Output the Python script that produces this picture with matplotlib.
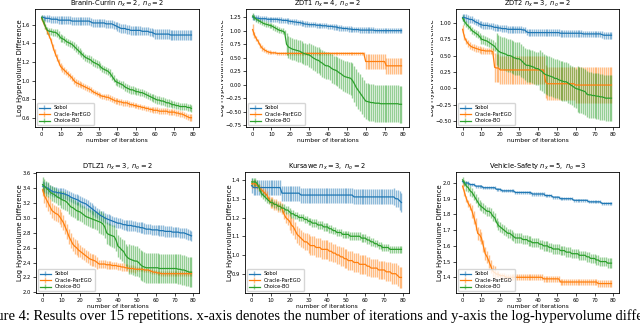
import numpy as np
import matplotlib
matplotlib.use("Agg")
import matplotlib.pyplot as plt
from matplotlib.transforms import Bbox, TransformedBbox

iters = np.arange(80)
methods = ["Sobol", "Oracle-ParEGO", "Choice-BO"]
colors = ["#1f77b4", "#ff7f0e", "#2ca02c"]

# ---------------- Branin-Currin ----------------
bc_sobol = [1.68,1.68,1.67,1.67,1.67,1.66,1.66,1.66,1.66,1.65, 1.65,1.65,1.65,1.65,1.65,1.65,1.64,1.64,1.64,1.64,
            1.64,1.64,1.64,1.64,1.64,1.64,1.63,1.62,1.62,1.62, 1.62,1.62,1.62,1.62,1.61,1.61,1.61,1.61,1.60,1.59,
            1.58,1.57,1.56,1.56,1.56,1.55,1.55,1.54,1.54,1.54, 1.54,1.54,1.54,1.53,1.53,1.53,1.53,1.52,1.52,1.51,
            1.50,1.50,1.50,1.50,1.50,1.50,1.50,1.50,1.49,1.49, 1.49,1.49,1.49,1.49,1.49,1.49,1.49,1.49,1.49,1.49]
bc_sobol_err = [0.03,0.03,0.03,0.04,0.04,0.04,0.04,0.04,0.04,0.04, 0.04,0.04,0.04,0.04,0.04,0.04,0.04,0.04,0.04,0.04,
                0.04,0.04,0.04,0.04,0.04,0.04,0.04,0.04,0.04,0.04, 0.04,0.04,0.04,0.04,0.04,0.04,0.04,0.04,0.04,0.04,
                0.045,0.045,0.045,0.045,0.045,0.045,0.045,0.045,0.045,0.045, 0.045,0.045,0.045,0.045,0.045,0.045,0.045,0.045,0.045,0.045,
                0.05,0.05,0.05,0.05,0.05,0.05,0.05,0.05,0.05,0.05, 0.05,0.05,0.05,0.05,0.05,0.05,0.05,0.05,0.05,0.05]
bc_parego = [1.67,1.62,1.58,1.53,1.48,1.43,1.36,1.30,1.25,1.20, 1.15,1.13,1.11,1.09,1.07,1.05,1.03,1.00,0.98,0.97,
             0.96,0.95,0.94,0.93,0.92,0.91,0.90,0.88,0.87,0.86, 0.85,0.84,0.83,0.83,0.82,0.82,0.81,0.80,0.79,0.78,
             0.78,0.77,0.77,0.76,0.76,0.76,0.75,0.74,0.74,0.73, 0.73,0.72,0.72,0.71,0.71,0.70,0.70,0.69,0.69,0.68,
             0.68,0.68,0.67,0.67,0.67,0.67,0.67,0.66,0.66,0.66, 0.66,0.65,0.65,0.64,0.64,0.63,0.62,0.61,0.60,0.60]
bc_parego_err = [0.02,0.02,0.02,0.025,0.025,0.03,0.03,0.035,0.035,0.035, 0.035,0.035,0.035,0.035,0.035,0.035,0.035,0.035,0.035,0.035,
                 0.03,0.03,0.03,0.03,0.03,0.03,0.03,0.03,0.03,0.03, 0.03,0.03,0.03,0.03,0.03,0.03,0.03,0.03,0.03,0.03,
                 0.03,0.03,0.03,0.03,0.03,0.03,0.03,0.03,0.03,0.03, 0.03,0.03,0.03,0.03,0.03,0.03,0.03,0.03,0.03,0.03,
                 0.03,0.03,0.03,0.03,0.03,0.03,0.03,0.03,0.03,0.03, 0.035,0.035,0.035,0.035,0.035,0.035,0.035,0.035,0.035,0.035]
bc_choice = [1.68,1.63,1.58,1.54,1.53,1.53,1.52,1.52,1.51,1.49, 1.46,1.45,1.44,1.42,1.41,1.40,1.39,1.37,1.35,1.33,
             1.31,1.29,1.27,1.25,1.24,1.23,1.22,1.20,1.19,1.18, 1.17,1.15,1.13,1.12,1.11,1.10,1.08,1.05,1.02,0.99,
             0.98,0.97,0.96,0.95,0.93,0.92,0.91,0.90,0.90,0.89, 0.88,0.88,0.87,0.87,0.86,0.85,0.84,0.83,0.82,0.81,
             0.80,0.79,0.79,0.78,0.78,0.77,0.76,0.76,0.75,0.74, 0.74,0.73,0.73,0.72,0.72,0.72,0.72,0.71,0.71,0.70]
bc_choice_err = [0.03,0.03,0.03,0.035,0.035,0.04,0.04,0.04,0.04,0.04, 0.04,0.04,0.04,0.04,0.04,0.04,0.04,0.04,0.04,0.04,
                 0.04,0.04,0.04,0.04,0.04,0.04,0.04,0.04,0.04,0.04, 0.04,0.04,0.04,0.04,0.04,0.04,0.04,0.04,0.04,0.04,
                 0.04,0.04,0.04,0.04,0.04,0.04,0.04,0.04,0.04,0.04, 0.04,0.04,0.04,0.04,0.04,0.04,0.04,0.04,0.04,0.04,
                 0.04,0.04,0.04,0.04,0.04,0.04,0.04,0.04,0.04,0.04, 0.04,0.04,0.04,0.04,0.04,0.04,0.04,0.04,0.04,0.04]

# ---------------- ZDT1 ----------------
z1_sobol = [1.25,1.24,1.23,1.23,1.22,1.22,1.22,1.22,1.21,1.21, 1.21,1.21,1.21,1.21,1.20,1.20,1.19,1.19,1.19,1.18,
            1.17,1.17,1.16,1.16,1.15,1.15,1.14,1.13,1.12,1.12, 1.11,1.11,1.11,1.11,1.10,1.10,1.10,1.09,1.09,1.09,
            1.08,1.08,1.08,1.07,1.07,1.06,1.05,1.05,1.04,1.04, 1.04,1.03,1.03,1.02,1.02,1.02,1.02,1.01,1.01,1.01,
            1.01,1.01,1.01,1.01,1.01,1.00,1.00,1.00,1.00,1.00, 1.00,1.00,1.00,1.00,1.00,1.00,1.00,1.00,1.00,1.00]
z1_sobol_err = [0.05,0.05,0.05,0.05,0.05,0.05,0.05,0.05,0.05,0.05, 0.05,0.05,0.05,0.05,0.05,0.05,0.05,0.05,0.05,0.05,
                0.05,0.05,0.05,0.05,0.05,0.05,0.05,0.05,0.05,0.05, 0.05,0.05,0.05,0.05,0.05,0.05,0.05,0.05,0.05,0.05,
                0.05,0.05,0.05,0.05,0.05,0.05,0.05,0.05,0.05,0.05, 0.05,0.05,0.05,0.05,0.05,0.05,0.05,0.05,0.05,0.05,
                0.05,0.05,0.05,0.05,0.05,0.05,0.05,0.05,0.05,0.05, 0.05,0.05,0.05,0.05,0.05,0.05,0.05,0.05,0.05,0.05]
z1_parego = [1.02,0.92,0.85,0.80,0.73,0.68,0.65,0.63,0.61,0.60, 0.59,0.59,0.59,0.58,0.58,0.58,0.58,0.58,0.58,0.58,
             0.58,0.58,0.58,0.58,0.58,0.58,0.58,0.58,0.58,0.58, 0.58,0.58,0.58,0.58,0.58,0.58,0.58,0.58,0.58,0.58,
             0.58,0.58,0.58,0.58,0.58,0.58,0.58,0.58,0.58,0.58, 0.58,0.58,0.58,0.58,0.58,0.58,0.58,0.58,0.58,0.58,
             0.43,0.43,0.43,0.43,0.43,0.43,0.43,0.43,0.43,0.43, 0.43,0.35,0.35,0.35,0.35,0.35,0.35,0.35,0.35,0.35]
z1_parego_err = [0.10,0.06,0.05,0.05,0.05,0.05,0.04,0.04,0.04,0.04, 0.03,0.03,0.03,0.03,0.03,0.03,0.03,0.03,0.03,0.03,
                 0.03,0.03,0.03,0.03,0.03,0.03,0.03,0.03,0.03,0.03, 0.03,0.03,0.03,0.03,0.03,0.03,0.03,0.03,0.03,0.03,
                 0.03,0.03,0.03,0.03,0.03,0.03,0.03,0.03,0.03,0.03, 0.03,0.03,0.03,0.03,0.03,0.03,0.03,0.03,0.03,0.03,
                 0.13,0.13,0.13,0.13,0.13,0.13,0.13,0.13,0.13,0.13, 0.13,0.15,0.15,0.15,0.15,0.15,0.15,0.15,0.15,0.15]
z1_choice = [1.27,1.24,1.21,1.19,1.17,1.15,1.13,1.12,1.11,1.10, 1.09,1.07,1.05,1.03,1.01,1.00,0.99,0.97,0.75,0.70,
             0.68,0.66,0.65,0.64,0.63,0.62,0.60,0.58,0.57,0.56, 0.55,0.53,0.50,0.48,0.46,0.45,0.42,0.40,0.37,0.35,
             0.35,0.33,0.30,0.28,0.27,0.25,0.22,0.20,0.17,0.15, 0.14,0.13,0.12,0.08,0.02,-0.05,-0.10,-0.15,-0.20,-0.25,
             -0.30,-0.31,-0.32,-0.33,-0.33,-0.34,-0.34,-0.34,-0.35,-0.35, -0.35,-0.35,-0.35,-0.35,-0.35,-0.35,-0.35,-0.35,-0.36,-0.36]
z1_choice_err = [0.05,0.05,0.05,0.05,0.05,0.05,0.05,0.05,0.05,0.05, 0.05,0.05,0.05,0.05,0.05,0.05,0.05,0.05,0.20,0.20,
                 0.20,0.20,0.20,0.20,0.20,0.20,0.20,0.20,0.20,0.20, 0.22,0.22,0.23,0.23,0.24,0.24,0.24,0.25,0.25,0.25,
                 0.25,0.25,0.26,0.26,0.27,0.27,0.28,0.28,0.29,0.29, 0.30,0.30,0.30,0.32,0.33,0.34,0.34,0.34,0.34,0.34,
                 0.34,0.34,0.34,0.34,0.34,0.34,0.34,0.34,0.34,0.34, 0.34,0.34,0.34,0.34,0.34,0.34,0.34,0.34,0.34,0.34]

# ---------------- ZDT2 ----------------
z2_sobol = [1.08,1.08,1.07,1.06,1.05,1.05,1.03,1.01,1.00,0.98, 0.97,0.96,0.96,0.96,0.95,0.95,0.94,0.93,0.93,0.92,
            0.92,0.91,0.91,0.91,0.90,0.90,0.90,0.90,0.90,0.90, 0.90,0.90,0.89,0.89,0.86,0.85,0.85,0.85,0.85,0.85,
            0.85,0.85,0.85,0.85,0.85,0.85,0.85,0.85,0.85,0.85, 0.85,0.85,0.84,0.84,0.84,0.84,0.84,0.84,0.84,0.84,
            0.84,0.84,0.84,0.84,0.83,0.83,0.83,0.83,0.83,0.83, 0.83,0.83,0.83,0.83,0.82,0.81,0.81,0.81,0.81,0.81]
z2_sobol_err = [0.06,0.06,0.06,0.06,0.06,0.06,0.05,0.05,0.05,0.05, 0.05,0.05,0.05,0.05,0.05,0.05,0.05,0.05,0.05,0.05,
                0.05,0.05,0.05,0.05,0.05,0.05,0.05,0.05,0.05,0.05, 0.05,0.05,0.05,0.05,0.05,0.05,0.05,0.05,0.05,0.05,
                0.05,0.05,0.05,0.05,0.05,0.05,0.05,0.05,0.05,0.05, 0.05,0.05,0.05,0.05,0.05,0.05,0.05,0.05,0.05,0.05,
                0.05,0.05,0.05,0.05,0.05,0.05,0.05,0.05,0.05,0.05, 0.05,0.05,0.05,0.05,0.05,0.05,0.05,0.05,0.05,0.05]
z2_parego = [0.90,0.78,0.72,0.68,0.65,0.63,0.62,0.61,0.60,0.59, 0.58,0.58,0.57,0.57,0.57,0.57,0.56,0.32,0.31,0.31,
             0.28,0.28,0.28,0.28,0.28,0.28,0.28,0.28,0.28,0.28, 0.28,0.28,0.28,0.28,0.28,0.28,0.28,0.28,0.28,0.28,
             0.28,0.28,0.28,0.28,0.10,0.07,0.07,0.07,0.07,0.07, 0.07,0.07,0.07,0.07,0.07,0.07,0.07,0.07,0.07,0.07,
             0.05,0.05,0.05,0.05,0.05,0.05,0.05,0.05,0.05,0.05, 0.05,0.05,0.05,0.05,0.05,0.05,0.05,0.05,0.05,0.05]
z2_parego_err = [0.06,0.05,0.05,0.05,0.05,0.05,0.05,0.05,0.05,0.05, 0.05,0.05,0.05,0.05,0.05,0.05,0.05,0.22,0.22,0.22,
                 0.22,0.22,0.22,0.22,0.22,0.22,0.22,0.22,0.22,0.22, 0.22,0.22,0.22,0.22,0.22,0.22,0.22,0.22,0.22,0.22,
                 0.22,0.22,0.22,0.22,0.25,0.25,0.25,0.25,0.25,0.25, 0.25,0.25,0.25,0.25,0.25,0.25,0.25,0.25,0.25,0.25,
                 0.27,0.27,0.27,0.27,0.27,0.27,0.27,0.27,0.27,0.27, 0.27,0.27,0.27,0.27,0.27,0.27,0.27,0.27,0.27,0.27]
z2_choice = [1.07,1.02,0.98,0.95,0.92,0.88,0.86,0.84,0.82,0.79, 0.75,0.74,0.73,0.72,0.70,0.68,0.66,0.64,0.60,0.57,
             0.55,0.54,0.53,0.52,0.50,0.50,0.49,0.47,0.46,0.45, 0.45,0.43,0.40,0.37,0.35,0.35,0.34,0.33,0.32,0.30,
             0.30,0.28,0.26,0.23,0.21,0.20,0.19,0.18,0.17,0.15, 0.15,0.13,0.12,0.11,0.10,0.10,0.08,0.06,0.04,0.02,
             0.00,-0.01,-0.02,-0.03,-0.04,-0.05,-0.09,-0.10,-0.10,-0.11, -0.11,-0.12,-0.12,-0.13,-0.13,-0.14,-0.15,-0.15,-0.15,-0.15]
z2_choice_err = [0.05,0.05,0.05,0.05,0.05,0.05,0.05,0.05,0.05,0.05, 0.07,0.07,0.07,0.07,0.07,0.07,0.07,0.07,0.25,0.25,
                 0.25,0.25,0.25,0.25,0.25,0.25,0.25,0.25,0.25,0.25, 0.25,0.25,0.25,0.25,0.25,0.25,0.25,0.25,0.25,0.25,
                 0.25,0.30,0.30,0.30,0.30,0.30,0.30,0.30,0.30,0.30, 0.30,0.30,0.30,0.30,0.30,0.30,0.30,0.30,0.30,0.30,
                 0.30,0.35,0.35,0.35,0.35,0.35,0.35,0.35,0.35,0.35, 0.35,0.35,0.35,0.35,0.35,0.35,0.35,0.35,0.35,0.35]

# ---------------- DTLZ1 ----------------
d1_sobol = [3.43,3.42,3.41,3.40,3.38,3.36,3.35,3.35,3.34,3.34, 3.33,3.33,3.32,3.31,3.30,3.28,3.27,3.26,3.25,3.24,
            3.22,3.21,3.20,3.19,3.17,3.15,3.13,3.11,3.09,3.07, 3.05,3.03,3.02,3.00,2.99,2.98,2.97,2.96,2.95,2.94,
            2.93,2.93,2.92,2.91,2.91,2.90,2.90,2.90,2.89,2.89, 2.88,2.88,2.87,2.87,2.86,2.85,2.85,2.85,2.84,2.84,
            2.84,2.84,2.83,2.83,2.83,2.82,2.82,2.82,2.82,2.81, 2.81,2.81,2.81,2.80,2.80,2.80,2.79,2.78,2.77,2.76]
d1_sobol_err = [0.07,0.07,0.07,0.07,0.07,0.07,0.07,0.07,0.07,0.07, 0.07,0.07,0.07,0.07,0.07,0.07,0.07,0.07,0.07,0.07,
                0.07,0.07,0.07,0.07,0.07,0.07,0.07,0.07,0.07,0.07, 0.07,0.07,0.07,0.07,0.07,0.07,0.07,0.07,0.07,0.07,
                0.07,0.07,0.07,0.07,0.07,0.07,0.07,0.07,0.07,0.07, 0.07,0.07,0.07,0.07,0.07,0.07,0.07,0.07,0.07,0.07,
                0.07,0.07,0.07,0.07,0.07,0.07,0.07,0.07,0.07,0.07, 0.07,0.07,0.07,0.07,0.07,0.07,0.07,0.07,0.07,0.07]
d1_parego = [3.38,3.30,3.25,3.20,3.15,3.10,3.08,3.06,3.05,3.02, 2.98,2.94,2.88,2.82,2.75,2.70,2.65,2.62,2.60,2.57,
             2.55,2.53,2.51,2.49,2.47,2.45,2.44,2.43,2.42,2.40, 2.38,2.38,2.38,2.38,2.37,2.37,2.37,2.36,2.36,2.36,
             2.35,2.35,2.34,2.34,2.33,2.33,2.32,2.32,2.32,2.31, 2.31,2.31,2.31,2.31,2.30,2.30,2.30,2.29,2.28,2.27,
             2.27,2.26,2.26,2.25,2.25,2.25,2.25,2.25,2.25,2.25, 2.25,2.25,2.25,2.25,2.25,2.25,2.25,2.25,2.25,2.25]
d1_parego_err = [0.08,0.10,0.10,0.10,0.10,0.10,0.10,0.10,0.10,0.10, 0.10,0.10,0.10,0.10,0.10,0.10,0.10,0.10,0.10,0.10,
                 0.08,0.08,0.08,0.08,0.08,0.08,0.08,0.08,0.08,0.08, 0.05,0.05,0.05,0.05,0.05,0.05,0.05,0.05,0.05,0.05,
                 0.05,0.05,0.05,0.05,0.05,0.05,0.05,0.05,0.05,0.05, 0.03,0.03,0.03,0.03,0.03,0.03,0.03,0.03,0.03,0.03,
                 0.03,0.03,0.03,0.03,0.03,0.03,0.03,0.03,0.03,0.03, 0.03,0.03,0.03,0.03,0.03,0.03,0.03,0.03,0.03,0.03]
d1_choice = [3.45,3.43,3.40,3.38,3.35,3.33,3.32,3.30,3.28,3.27, 3.25,3.24,3.23,3.21,3.18,3.15,3.14,3.12,3.10,3.09,
             3.08,3.06,3.04,3.02,3.01,3.00,2.99,2.98,2.97,2.96, 2.95,2.94,2.92,2.88,2.80,2.78,2.77,2.76,2.75,2.70,
             2.62,2.60,2.57,2.55,2.50,2.47,2.45,2.44,2.43,2.42, 2.42,2.40,2.37,2.35,2.34,2.33,2.33,2.33,2.33,2.33,
             2.33,2.33,2.32,2.32,2.32,2.32,2.32,2.32,2.32,2.32, 2.32,2.32,2.31,2.31,2.30,2.30,2.29,2.28,2.27,2.27]
d1_choice_err = [0.10,0.10,0.10,0.10,0.10,0.10,0.10,0.10,0.10,0.10, 0.12,0.12,0.12,0.12,0.12,0.12,0.12,0.12,0.12,0.12,
                 0.12,0.12,0.12,0.12,0.12,0.12,0.12,0.12,0.12,0.12, 0.15,0.15,0.15,0.15,0.15,0.15,0.15,0.15,0.15,0.15,
                 0.15,0.15,0.15,0.15,0.15,0.15,0.20,0.20,0.20,0.20, 0.20,0.20,0.20,0.20,0.20,0.20,0.20,0.20,0.20,0.20,
                 0.20,0.20,0.20,0.20,0.20,0.20,0.20,0.20,0.20,0.20, 0.20,0.20,0.20,0.20,0.20,0.20,0.20,0.20,0.20,0.20]

# ---------------- Kursawe ----------------
ku_sobol = [1.37,1.36,1.36,1.36,1.36,1.36,1.36,1.36,1.36,1.36, 1.36,1.36,1.36,1.36,1.36,1.36,1.33,1.33,1.33,1.33,
            1.33,1.33,1.33,1.33,1.33,1.33,1.32,1.32,1.32,1.32, 1.32,1.32,1.32,1.32,1.32,1.32,1.32,1.32,1.32,1.32,
            1.32,1.32,1.32,1.32,1.32,1.32,1.32,1.32,1.32,1.32, 1.32,1.32,1.32,1.32,1.31,1.31,1.31,1.31,1.31,1.31,
            1.31,1.31,1.31,1.31,1.31,1.31,1.31,1.31,1.31,1.31, 1.31,1.31,1.31,1.31,1.31,1.31,1.30,1.30,1.29,1.28]
ku_sobol_err = [0.04,0.04,0.04,0.04,0.04,0.04,0.04,0.04,0.04,0.04, 0.04,0.04,0.04,0.04,0.04,0.04,0.04,0.04,0.04,0.04,
                0.04,0.04,0.04,0.04,0.04,0.04,0.04,0.04,0.04,0.04, 0.04,0.04,0.04,0.04,0.04,0.04,0.04,0.04,0.04,0.04,
                0.04,0.04,0.04,0.04,0.04,0.04,0.04,0.04,0.04,0.04, 0.04,0.04,0.04,0.04,0.04,0.04,0.04,0.04,0.04,0.04,
                0.04,0.04,0.04,0.04,0.04,0.04,0.04,0.04,0.04,0.04, 0.04,0.04,0.04,0.04,0.04,0.045,0.045,0.045,0.05,0.05]
ku_parego = [1.38,1.38,1.38,1.37,1.36,1.35,1.34,1.33,1.32,1.30, 1.28,1.28,1.27,1.27,1.26,1.26,1.25,1.22,1.20,1.19,
             1.18,1.16,1.15,1.13,1.11,1.10,1.09,1.08,1.07,1.07, 1.06,1.05,1.05,1.05,1.04,1.04,1.04,1.03,1.03,1.03,
             1.03,1.02,1.02,1.01,1.01,1.00,1.00,0.99,0.99,0.98, 0.98,0.97,0.97,0.97,0.96,0.96,0.96,0.95,0.95,0.95,
             0.95,0.94,0.94,0.93,0.93,0.93,0.93,0.92,0.92,0.92, 0.92,0.91,0.91,0.91,0.90,0.90,0.90,0.89,0.88,0.88]
ku_parego_err = [0.02,0.02,0.02,0.02,0.02,0.02,0.02,0.02,0.02,0.02, 0.03,0.03,0.03,0.03,0.03,0.03,0.03,0.03,0.03,0.03,
                 0.045,0.045,0.045,0.045,0.045,0.045,0.045,0.045,0.045,0.045, 0.05,0.05,0.05,0.05,0.05,0.05,0.05,0.05,0.05,0.05,
                 0.05,0.05,0.05,0.05,0.05,0.05,0.05,0.05,0.05,0.05, 0.05,0.05,0.05,0.05,0.05,0.05,0.05,0.05,0.05,0.05,
                 0.05,0.05,0.05,0.05,0.05,0.05,0.05,0.05,0.05,0.05, 0.05,0.05,0.05,0.05,0.055,0.055,0.055,0.055,0.055,0.055]
ku_choice = [1.39,1.39,1.39,1.38,1.36,1.33,1.32,1.31,1.30,1.29, 1.28,1.28,1.27,1.27,1.26,1.26,1.25,1.25,1.24,1.24,
             1.23,1.22,1.22,1.21,1.21,1.20,1.20,1.20,1.19,1.19, 1.18,1.18,1.17,1.17,1.17,1.16,1.16,1.16,1.15,1.15,
             1.15,1.14,1.14,1.13,1.13,1.12,1.12,1.12,1.11,1.11, 1.11,1.11,1.10,1.10,1.10,1.10,1.10,1.10,1.09,1.09,
             1.09,1.08,1.08,1.07,1.07,1.06,1.06,1.05,1.05,1.04, 1.04,1.04,1.04,1.03,1.03,1.03,1.03,1.03,1.03,1.03]
ku_choice_err = [0.02,0.02,0.02,0.02,0.02,0.02,0.02,0.02,0.02,0.02, 0.02,0.02,0.02,0.02,0.02,0.02,0.02,0.02,0.02,0.02,
                 0.02,0.02,0.02,0.02,0.02,0.02,0.02,0.02,0.02,0.02, 0.02,0.02,0.02,0.02,0.02,0.02,0.02,0.02,0.02,0.02,
                 0.02,0.02,0.02,0.02,0.02,0.02,0.02,0.02,0.02,0.02, 0.02,0.02,0.02,0.02,0.02,0.02,0.02,0.02,0.02,0.02,
                 0.02,0.02,0.02,0.02,0.02,0.02,0.02,0.02,0.02,0.02, 0.02,0.02,0.02,0.02,0.02,0.02,0.02,0.02,0.02,0.02]

# ---------------- Vehicle-Safety ----------------
vs_sobol = [2.01,2.00,2.00,2.00,1.99,1.99,1.99,1.98,1.98,1.98, 1.98,1.97,1.97,1.97,1.97,1.97,1.97,1.97,1.96,1.96,
            1.96,1.95,1.95,1.95,1.95,1.95,1.95,1.95,1.94,1.94, 1.94,1.94,1.94,1.94,1.94,1.94,1.94,1.93,1.93,1.93,
            1.93,1.93,1.93,1.93,1.92,1.92,1.92,1.92,1.91,1.91, 1.91,1.91,1.90,1.90,1.90,1.90,1.90,1.90,1.90,1.89,
            1.89,1.89,1.89,1.89,1.89,1.89,1.89,1.88,1.88,1.88, 1.88,1.88,1.88,1.88,1.87,1.87,1.87,1.87,1.87,1.87]
vs_sobol_err = [0.01,0.01,0.01,0.01,0.01,0.01,0.01,0.01,0.01,0.01, 0.01,0.01,0.01,0.01,0.01,0.01,0.01,0.01,0.01,0.01,
                0.01,0.01,0.01,0.01,0.01,0.01,0.01,0.01,0.01,0.01, 0.01,0.01,0.01,0.01,0.01,0.01,0.01,0.01,0.01,0.01,
                0.01,0.01,0.01,0.01,0.01,0.01,0.01,0.01,0.01,0.01, 0.01,0.01,0.01,0.01,0.01,0.01,0.01,0.01,0.01,0.01,
                0.01,0.01,0.01,0.01,0.01,0.01,0.01,0.01,0.01,0.01, 0.01,0.01,0.01,0.01,0.01,0.01,0.01,0.01,0.01,0.01]
vs_parego = [1.98,1.94,1.90,1.87,1.85,1.82,1.78,1.74,1.68,1.67, 1.65,1.60,1.55,1.53,1.50,1.47,1.44,1.43,1.42,1.42,
             1.41,1.41,1.41,1.40,1.40,1.40,1.40,1.40,1.40,1.40, 1.40,1.40,1.40,1.40,1.40,1.40,1.40,1.40,1.40,1.40,
             1.40,1.40,1.40,1.39,1.39,1.39,1.39,1.39,1.39,1.39, 1.39,1.39,1.37,1.37,1.37,1.37,1.37,1.37,1.37,1.37,
             1.37,1.37,1.37,1.37,1.37,1.37,1.37,1.37,1.37,1.37, 1.37,1.37,1.36,1.36,1.36,1.36,1.36,1.36,1.36,1.36]
vs_parego_err = [0.02,0.02,0.02,0.02,0.02,0.04,0.04,0.04,0.04,0.04, 0.04,0.04,0.04,0.04,0.04,0.04,0.04,0.04,0.02,0.02,
                 0.02,0.02,0.02,0.02,0.02,0.02,0.02,0.02,0.02,0.02, 0.02,0.02,0.02,0.02,0.02,0.02,0.02,0.02,0.02,0.02,
                 0.02,0.02,0.02,0.02,0.02,0.02,0.02,0.02,0.02,0.02, 0.02,0.02,0.02,0.02,0.02,0.02,0.02,0.02,0.02,0.02,
                 0.02,0.02,0.02,0.02,0.02,0.02,0.02,0.02,0.02,0.02, 0.02,0.02,0.02,0.02,0.02,0.02,0.02,0.02,0.02,0.02]
vs_choice = [2.02,2.00,1.98,1.97,1.95,1.94,1.92,1.90,1.88,1.86, 1.85,1.84,1.83,1.82,1.82,1.81,1.79,1.78,1.75,1.73,
             1.72,1.71,1.70,1.69,1.68,1.68,1.67,1.66,1.65,1.65, 1.65,1.65,1.64,1.64,1.64,1.63,1.63,1.62,1.62,1.62,
             1.62,1.61,1.61,1.60,1.60,1.60,1.59,1.59,1.58,1.58, 1.58,1.58,1.57,1.57,1.57,1.56,1.56,1.56,1.55,1.55,
             1.55,1.55,1.54,1.54,1.54,1.54,1.53,1.53,1.52,1.52, 1.52,1.51,1.51,1.50,1.50,1.50,1.50,1.49,1.49,1.49]
vs_choice_err = [0.02,0.02,0.03,0.03,0.03,0.03,0.03,0.03,0.03,0.03, 0.03,0.03,0.03,0.03,0.03,0.03,0.03,0.03,0.03,0.03,
                 0.03,0.03,0.03,0.03,0.03,0.03,0.03,0.03,0.03,0.03, 0.03,0.03,0.03,0.03,0.03,0.03,0.03,0.03,0.03,0.03,
                 0.03,0.03,0.03,0.03,0.03,0.03,0.03,0.03,0.03,0.03, 0.03,0.03,0.03,0.03,0.03,0.03,0.03,0.03,0.03,0.03,
                 0.03,0.03,0.03,0.03,0.03,0.03,0.03,0.03,0.03,0.03, 0.03,0.03,0.03,0.03,0.03,0.03,0.03,0.03,0.03,0.03]

titles = [r"Branin-Currin $n_x = 2,\ n_o = 2$", r"ZDT1 $n_x = 4,\ n_o = 2$", r"ZDT2 $n_x = 3,\ n_o = 2$",
          r"DTLZ1 $n_x = 3,\ n_o = 2$", r"Kursawe $n_x = 3,\ n_o = 2$", r"Vehicle-Safety $n_x = 5,\ n_o = 3$"]
panel_series = [
    [(bc_sobol, bc_sobol_err), (bc_parego, bc_parego_err), (bc_choice, bc_choice_err)],
    [(z1_sobol, z1_sobol_err), (z1_parego, z1_parego_err), (z1_choice, z1_choice_err)],
    [(z2_sobol, z2_sobol_err), (z2_parego, z2_parego_err), (z2_choice, z2_choice_err)],
    [(d1_sobol, d1_sobol_err), (d1_parego, d1_parego_err), (d1_choice, d1_choice_err)],
    [(ku_sobol, ku_sobol_err), (ku_parego, ku_parego_err), (ku_choice, ku_choice_err)],
    [(vs_sobol, vs_sobol_err), (vs_parego, vs_parego_err), (vs_choice, vs_choice_err)],
]
ylims = [(0.50, 1.77), (-0.78, 1.40), (-0.59, 1.21), (1.99, 3.62), (0.797, 1.443), (1.30, 2.07)]
yticks = [[0.6, 0.8, 1.0, 1.2, 1.4, 1.6],
          [-0.75, -0.5, -0.25, 0.0, 0.25, 0.5, 0.75, 1.0, 1.25],
          [-0.5, -0.25, 0.0, 0.25, 0.5, 0.75, 1.0],
          [2.0, 2.2, 2.4, 2.6, 2.8, 3.0, 3.2, 3.4, 3.6],
          [0.9, 1.0, 1.1, 1.2, 1.3, 1.4],
          [1.4, 1.5, 1.6, 1.7, 1.8, 1.9, 2.0]]
xticks = [0, 10, 20, 30, 40, 50, 60, 70, 80]

W, H = 640, 325
fig = plt.figure(figsize=(W / 100, H / 100), dpi=100)

# pixel boxes: (left, top, right, bottom)
boxes = [(35, 9, 199, 127), (246, 9, 409, 127), (456, 9, 619, 127),
         (36, 172, 199, 293), (245, 172, 409, 293), (456, 172, 619, 293)]
# right edge of the y label (px) and left clip edge (px) where the label is cut by a neighbour image
ylabel_right = [23, 225, 435, 23, 233, 443]
clip_left = [None, 221, 431, None, None, None]

FS_TICK = 3.8
FS_XLAB = 4.3
FS_YLAB = 4.9
FS_TITLE = 4.9

for k, (l, t, r, b) in enumerate(boxes):
    ax = fig.add_axes([l / W, 1 - b / H, (r - l) / W, (b - t) / H])
    for (y, e), c, name in zip(panel_series[k], colors, methods):
        cont = ax.errorbar(iters, y, yerr=e, color=c, lw=0.9, elinewidth=1.0, label=name)
        cont[2][0].set_alpha(0.5)
    ax.set_xlim(-3.5, 83)
    ax.set_ylim(*ylims[k])
    ax.set_xticks(xticks)
    ax.set_yticks(yticks[k])
    ax.tick_params(labelsize=FS_TICK, length=2, width=0.5, pad=1.5)
    for s in ax.spines.values():
        s.set_linewidth(0.6)
    ax.set_title(titles[k], fontsize=FS_TITLE, pad=1.2)
    ax.set_xlabel("number of iterations", fontsize=FS_XLAB, labelpad=1)
    ax.set_ylabel("Log Hypervolume Difference", fontsize=FS_YLAB)
    ax.yaxis.set_label_coords((ylabel_right[k] - l) / (r - l), 0.5)
    if clip_left[k] is not None:
        bb = TransformedBbox(Bbox([[clip_left[k] / W, 0], [1, 1]]), fig.transFigure)
        ax.yaxis.label.set_clip_box(bb)
        ax.yaxis.label.set_clip_on(True)
    ax.legend(loc="lower left", fontsize=3.7, frameon=True, borderpad=0.4,
              handlelength=2.2, labelspacing=0.3, borderaxespad=0.3, fancybox=True,
              framealpha=0.8, edgecolor="#cccccc")

fig.text(-0.036, 0.006,
         "Figure 4: Results over 15 repetitions. x-axis denotes the number of iterations and y-axis the log-hypervolume difference.",
         family="Liberation Serif", fontsize=10.5, va="bottom", ha="left")

fig.savefig("out.png", dpi=100)
